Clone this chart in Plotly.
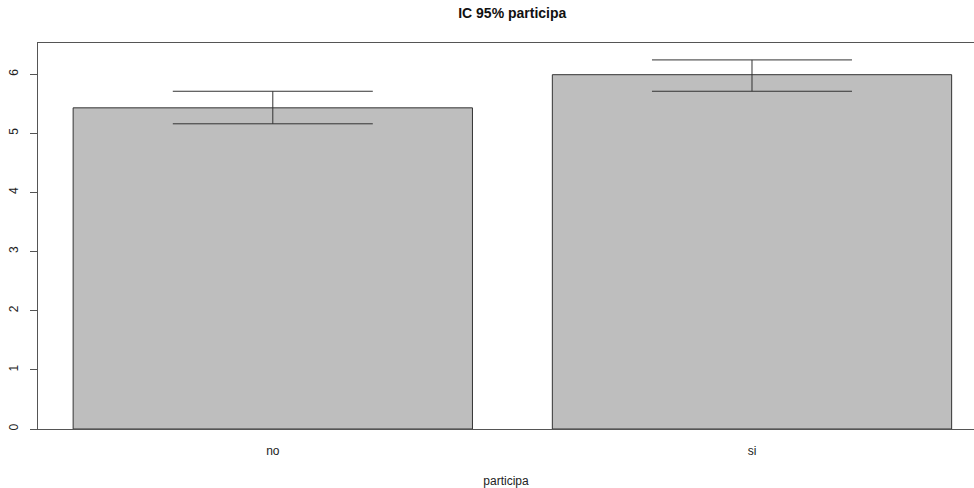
import plotly.graph_objects as go

categories = ["no", "si"]
means = [5.43, 5.99]
upper = [5.71, 6.24]
lower = [5.16, 5.71]
y_ticks = [0, 1, 2, 3, 4, 5, 6]

err_plus = [u - m for u, m in zip(upper, means)]
err_minus = [m - l for m, l in zip(means, lower)]

fig = go.Figure()
fig.add_trace(go.Bar(
    x=categories, y=means,
    width=1 / 1.2,
    marker=dict(color="#BEBEBE", line=dict(color="#333333", width=1)),
    error_y=dict(type="data", symmetric=False, array=err_plus, arrayminus=err_minus,
                 color="#333333", thickness=1, width=100),
    hoverinfo="skip",
))

font_family = "Liberation Sans, Arial, sans-serif"
fig.update_layout(
    width=974, height=488,
    margin=dict(l=37.5, r=0, t=42.5, b=58.5),
    paper_bgcolor="white", plot_bgcolor="white",
    showlegend=False,
    font=dict(family=font_family, size=12, color="#222222"),
    title=dict(text="<b>IC 95% participa</b>", x=0.5067, xref="paper", xanchor="center",
               y=1, yref="container", yanchor="top", pad=dict(t=8),
               font=dict(size=14, color="#111111")),
    xaxis=dict(
        type="category", range=[-0.49, 1.4633],
        showgrid=False, zeroline=False,
        showline=True, linecolor="#555555", linewidth=1, mirror=True,
        ticks="", ticklabelstandoff=11,
        title=dict(text="participa", standoff=19, font=dict(size=12)),
    ),
    yaxis=dict(
        range=[0, 6.526], tickvals=y_ticks, ticktext=[str(v) for v in y_ticks],
        showgrid=False, zeroline=False,
        showline=True, linecolor="#555555", linewidth=1, mirror=False,
        ticks="outside", ticklen=7, tickcolor="#555555", tickwidth=1,
        tickangle=-90, ticklabelstandoff=7,
    ),
)

fig.write_html("out.html", config={"displayModeBar": False},
               post_script="document.body.style.margin='0';document.body.style.overflow='hidden';")
